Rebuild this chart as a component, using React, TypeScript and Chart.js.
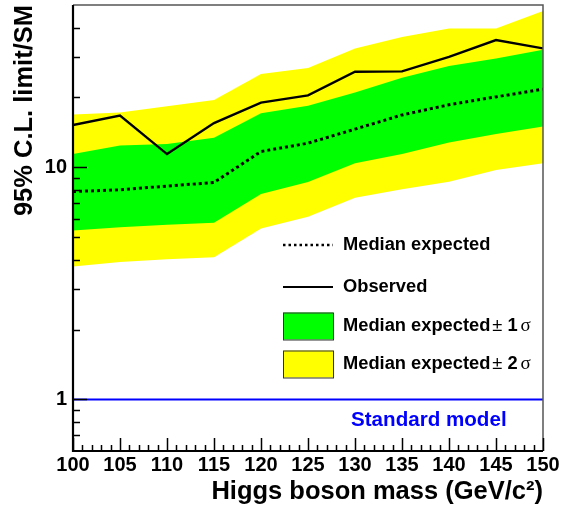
import React, { useEffect, useRef } from "react";
import { Chart, registerables } from "chart.js";

Chart.register(...registerables);

// ---- data ----
const masses = [100, 105, 110, 115, 120, 125, 130, 135, 140, 145, 150];
const observed = [15.2, 16.7, 11.4, 15.5, 19.0, 20.4, 25.8, 25.9, 29.9, 35.3, 32.5];
const expected = [7.86, 8.0, 8.3, 8.6, 11.7, 12.7, 14.6, 16.8, 18.6, 20.1, 21.7];
const plus1 = [11.4, 12.4, 12.6, 13.4, 17.1, 18.4, 21.0, 24.3, 27.3, 29.4, 32.1];
const minus1 = [5.34, 5.52, 5.65, 5.77, 7.68, 8.65, 10.4, 11.4, 12.8, 13.9, 15.0];
const plus2 = [16.9, 17.2, 18.3, 19.5, 25.2, 26.8, 32.5, 36.4, 39.6, 39.6, 47.1];
const minus2 = [3.74, 3.91, 4.02, 4.1, 5.45, 6.12, 7.4, 8.05, 8.67, 9.73, 10.4];
const smLevel = [1, 1];
const smRange = [100, 150];

const xMajorTicks = [100, 105, 110, 115, 120, 125, 130, 135, 140, 145, 150];
const xMinorTicks = [
  101, 102, 103, 104, 106, 107, 108, 109, 111, 112, 113, 114, 116, 117, 118, 119,
  121, 122, 123, 124, 126, 127, 128, 129, 131, 132, 133, 134, 136, 137, 138, 139,
  141, 142, 143, 144, 146, 147, 148, 149,
];
const yMajorTicks = [1, 10];
const yMinorTicks = [0.7, 0.8, 0.9, 2, 3, 4, 5, 6, 7, 8, 9, 20, 30, 40];

const xTitle = "Higgs boson mass (GeV/c\u00B2)";
const yTitle = "95% C.L. limit/SM";
const legendLabels = [
  "Median expected",
  "Observed",
  "Median expected \u00B1 1 \u03C3",
  "Median expected \u00B1 2 \u03C3",
];
const smLabel = "Standard model";

const FONT = '"Liberation Sans", Arial, Helvetica, sans-serif';
const YELLOW = "#ffff00";
const GREEN = "#00ff00";
const BLUE = "#0000ff";

const pts = (ys: number[]) => masses.map((m, i) => ({ x: m, y: ys[i] }));

const framePlugin = {
  id: "rootFrame",
  afterDatasetsDraw(chart: any) {
    const { ctx, chartArea: a, scales } = chart;
    const xs = scales.x;
    const ys = scales.y;
    ctx.save();
    // top & right frame (grey)
    ctx.strokeStyle = "#555";
    ctx.lineWidth = 1.5;
    ctx.beginPath();
    ctx.moveTo(a.left, a.top);
    ctx.lineTo(a.right, a.top);
    ctx.lineTo(a.right, a.bottom);
    ctx.stroke();
    // ticks
    ctx.strokeStyle = "#000";
    ctx.lineWidth = 1.5;
    ctx.beginPath();
    for (const v of yMajorTicks) {
      const p = Math.round(ys.getPixelForValue(v)) + 0.5;
      ctx.moveTo(a.left, p);
      ctx.lineTo(a.left + 14, p);
    }
    for (const v of yMinorTicks) {
      const p = Math.round(ys.getPixelForValue(v)) + 0.5;
      ctx.moveTo(a.left, p);
      ctx.lineTo(a.left + 7, p);
    }
    for (const v of xMajorTicks) {
      const p = Math.round(xs.getPixelForValue(v)) + 0.5;
      ctx.moveTo(p, a.bottom);
      ctx.lineTo(p, a.bottom - 13);
    }
    for (const v of xMinorTicks) {
      const p = Math.round(xs.getPixelForValue(v)) + 0.5;
      ctx.moveTo(p, a.bottom);
      ctx.lineTo(p, a.bottom - 6);
    }
    ctx.stroke();
    // left & bottom axes (black)
    ctx.lineWidth = 2.2;
    ctx.beginPath();
    ctx.moveTo(a.left, a.top);
    ctx.lineTo(a.left, a.bottom);
    ctx.lineTo(a.right, a.bottom);
    ctx.stroke();
    ctx.restore();
  },
  afterDraw(chart: any) {
    const { ctx } = chart;
    ctx.save();
    ctx.textBaseline = "middle";
    const sx0 = 283;
    const sx1 = 333;
    const tx = 343;
    const rows = [245, 287, 326, 364];
    // samples
    ctx.strokeStyle = "#000";
    ctx.lineWidth = 2.5;
    ctx.setLineDash([2.5, 3]);
    ctx.beginPath();
    ctx.moveTo(sx0, rows[0]);
    ctx.lineTo(sx1, rows[0]);
    ctx.stroke();
    ctx.setLineDash([]);
    ctx.lineWidth = 2;
    ctx.beginPath();
    ctx.moveTo(sx0, rows[1]);
    ctx.lineTo(sx1, rows[1]);
    ctx.stroke();
    const boxes = [
      { y: rows[2], c: GREEN },
      { y: rows[3], c: YELLOW },
    ];
    for (const b of boxes) {
      ctx.fillStyle = b.c;
      ctx.fillRect(sx0, b.y - 13.5, sx1 - sx0, 27);
      ctx.strokeStyle = "#333";
      ctx.lineWidth = 1;
      ctx.strokeRect(sx0 + 0.5, b.y - 13.5 + 0.5, sx1 - sx0, 27);
    }
    // labels
    ctx.fillStyle = "#000";
    const LF = 18.3;
    legendLabels.forEach((lab, i) => {
      const y = rows[i];
      const m = lab.match(/^(.*?)\s*\u00B1\s*(\d)\s*\u03C3$/);
      ctx.font = `bold ${LF}px ${FONT}`;
      if (!m) {
        ctx.fillText(lab, tx, y);
        return;
      }
      let x = tx;
      ctx.fillText(m[1], x, y);
      x += ctx.measureText(m[1]).width + 2;
      ctx.font = `${LF}px ${FONT}`;
      ctx.fillText("\u00B1", x, y);
      x += ctx.measureText("\u00B1").width;
      ctx.font = `bold ${LF}px ${FONT}`;
      const d = " " + m[2];
      ctx.fillText(d, x, y);
      x += ctx.measureText(d).width + 3;
      ctx.font = `19px "Liberation Serif", "DejaVu Serif", serif`;
      ctx.fillText("\u03C3", x, y);
    });
    // standard model text
    ctx.fillStyle = BLUE;
    ctx.font = `bold 20.6px ${FONT}`;
    ctx.fillText(smLabel, 351, 420);
    ctx.restore();
  },
};

export default function App() {
  const ref = useRef<HTMLCanvasElement | null>(null);
  useEffect(() => {
    document.body.style.margin = "0";
    const canvas = ref.current;
    if (!canvas) return;
    const chart = new Chart(canvas, {
      type: "line",
      data: {
        datasets: [
          {
            label: "+2 sigma",
            data: pts(plus2),
            borderWidth: 0,
            borderColor: "rgba(0,0,0,0)",
            backgroundColor: YELLOW,
            fill: 1,
            order: 10,
          },
          {
            label: "-2 sigma",
            data: pts(minus2),
            borderWidth: 0,
            borderColor: "rgba(0,0,0,0)",
            fill: false,
            order: 10,
          },
          {
            label: "+1 sigma",
            data: pts(plus1),
            borderWidth: 0,
            borderColor: "rgba(0,0,0,0)",
            backgroundColor: GREEN,
            fill: 3,
            order: 9,
          },
          {
            label: "-1 sigma",
            data: pts(minus1),
            borderWidth: 0,
            borderColor: "rgba(0,0,0,0)",
            fill: false,
            order: 9,
          },
          {
            label: smLabel,
            data: smRange.map((m, i) => ({ x: m, y: smLevel[i] })),
            borderColor: BLUE,
            borderWidth: 2,
            fill: false,
            order: 3,
          },
          {
            label: "Median expected",
            data: pts(expected),
            borderColor: "#000",
            borderWidth: 3,
            borderDash: [3, 3],
            borderCapStyle: "butt",
            fill: false,
            order: 2,
          },
          {
            label: "Observed",
            data: pts(observed),
            borderColor: "#000",
            borderWidth: 2.4,
            fill: false,
            order: 1,
          },
        ],
      },
      options: {
        animation: false,
        responsive: false,
        devicePixelRatio: 1,
        layout: { padding: { left: 0, top: 5, right: 23, bottom: 0 } },
        elements: { point: { radius: 0, hoverRadius: 0 }, line: { tension: 0 } },
        plugins: { legend: { display: false }, tooltip: { enabled: false } },
        events: [],
        scales: {
          x: {
            type: "linear",
            min: 100,
            max: 150,
            grid: { display: false, drawTicks: false },
            border: { display: false },
            afterBuildTicks: (s: any) => {
              s.ticks = xMajorTicks.map((v) => ({ value: v }));
            },
            afterFit: (s: any) => {
              s.height = 56;
              s.paddingLeft = 0;
              s.paddingRight = 0;
            },
            ticks: {
              autoSkip: false,
              maxRotation: 0,
              padding: 2,
              color: "#000",
              font: { family: FONT, size: 20, weight: "bold" },
              callback: (v: any) => String(v),
            },
            title: {
              display: true,
              text: xTitle,
              align: "end",
              color: "#000",
              font: { family: FONT, size: 25.5, weight: "bold" },
              padding: { top: 0, bottom: 0 },
            },
          },
          y: {
            type: "logarithmic",
            min: 0.6,
            max: 50,
            grid: { display: false, drawTicks: false },
            border: { display: false },
            afterBuildTicks: (s: any) => {
              s.ticks = yMajorTicks.map((v) => ({ value: v }));
            },
            afterFit: (s: any) => {
              s.width = 73;
              s.paddingTop = 0;
              s.paddingBottom = 0;
            },
            ticks: {
              autoSkip: false,
              padding: 6,
              color: "#000",
              font: { family: FONT, size: 20, weight: "bold" },
              callback: (v: any) => String(v),
            },
            title: {
              display: true,
              text: yTitle,
              align: "end",
              color: "#000",
              font: { family: FONT, size: 25.5, weight: "bold" },
              padding: { top: 10, bottom: 0 },
            },
          },
        },
      },
      plugins: [framePlugin],
    } as any);
    return () => chart.destroy();
  }, []);
  return (
    <div style={{ position: "absolute", left: 0, top: 0, width: 566, height: 507, background: "#fff" }}>
      <canvas ref={ref} width={566} height={507} style={{ display: "block" }} />
    </div>
  );
}
